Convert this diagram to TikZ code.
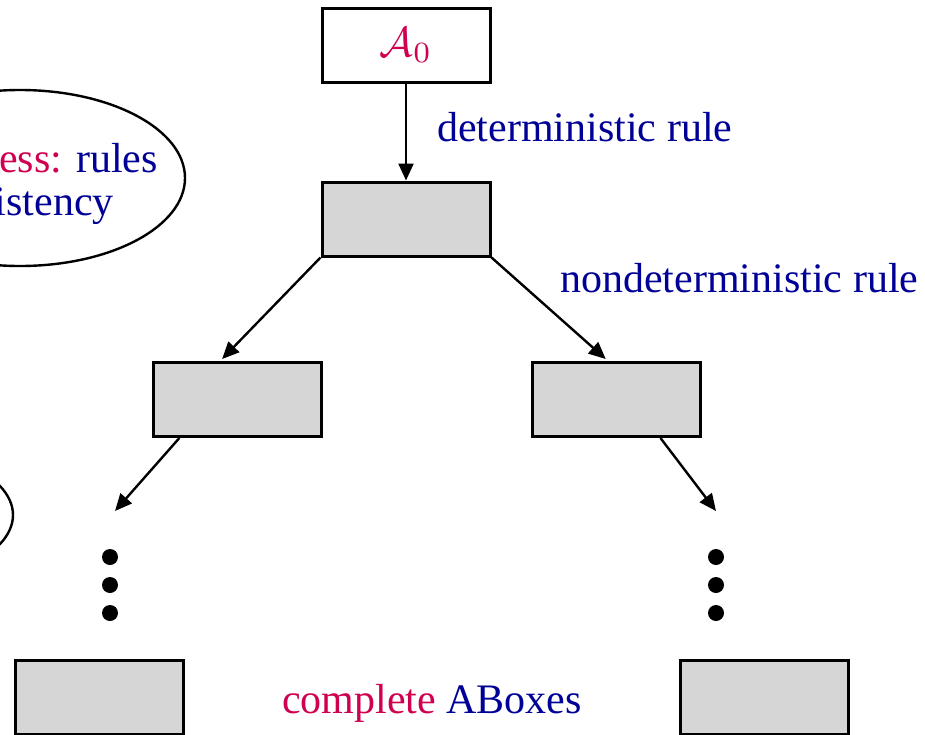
\documentclass[tikz,border=0pt]{standalone}
\usepackage{graphicx}
\usepackage{fontspec}
\setmainfont{Liberation Serif}
\usetikzlibrary{arrows.meta,calc}
\definecolor{kwred}{RGB}{208,0,80}
\definecolor{kwblue}{RGB}{0,0,150}
\definecolor{boxgray}{RGB}{214,214,214}
\tikzset{
  abox/.style={draw=black, line width=3pt, minimum width=168pt, minimum height=74pt, inner sep=0pt},
  graybox/.style={abox, fill=boxgray},
  whitebox/.style={abox, fill=white},
  rulearrow/.style={line width=2.4pt, -{Triangle[length=17pt,width=15pt]}},
  lbl/.style={font=\fontsize{42}{50}\selectfont, text=kwblue, inner sep=0pt},
  dotmark/.style={circle, fill=black, minimum size=16pt, inner sep=0pt},
}
\begin{document}
\begin{tikzpicture}[x=1pt,y=-1pt]
\useasboundingbox (0,0) rectangle (925,734);
\clip (0,0) rectangle (925,734);

% side remarks, mostly outside the frame
\draw[line width=2.4pt] (20,178) ellipse [x radius=165, y radius=88];
\node[lbl, anchor=east] (rem1) at (158,158) {\textcolor{kwred}{Soundness:} rules};
\node[lbl, anchor=east] (rem2) at (114,206) {preserve consistency};
\draw[line width=2.4pt] (-150,515) ellipse [x radius=163, y radius=74];

% the tableau tree
\node[whitebox] (a0) at (406,45) {\color{kwred}\scalebox{4.2}{$\mathcal{A}_0$}};
\node[graybox] (b1) at (406,219) {};
\node[graybox] (bl) at (237.5,399.5) {};
\node[graybox] (br) at (616,399.5) {};
\node[graybox] (fl) at (99.5,697) {};
\node[graybox] (fr) at (764,697) {};

\node[lbl, anchor=west] (det) at (437,127) {deterministic rule};
\node[lbl, anchor=west] (nondet) at (560,278) {nondeterministic rule};
\node[lbl] (compl) at (432,703) {\textcolor{kwred}{complete} ABoxes};

\foreach \y [count=\i] in {557,585,613} {
  \node[dotmark] (dl\i) at (110,\y) {};
  \node[dotmark] (dr\i) at (716,\y) {};
}

\coordinate (lend) at (115,511);
\coordinate (rend) at (716,511);

\draw[rulearrow] (a0.south) -- (b1.north);
\draw[rulearrow] (b1.south west) -- ($(bl.north west)!0.41!(bl.north east)+(0,-2)$);
\draw[rulearrow] (b1.south east) -- ($(br.north west)!0.44!(br.north east)+(0,-2)$);
\draw[rulearrow] ($(bl.south west)!0.16!(bl.south east)$) -- (lend);
\draw[rulearrow] ($(br.south west)!0.76!(br.south east)$) -- (rend);
\end{tikzpicture}
\end{document}
